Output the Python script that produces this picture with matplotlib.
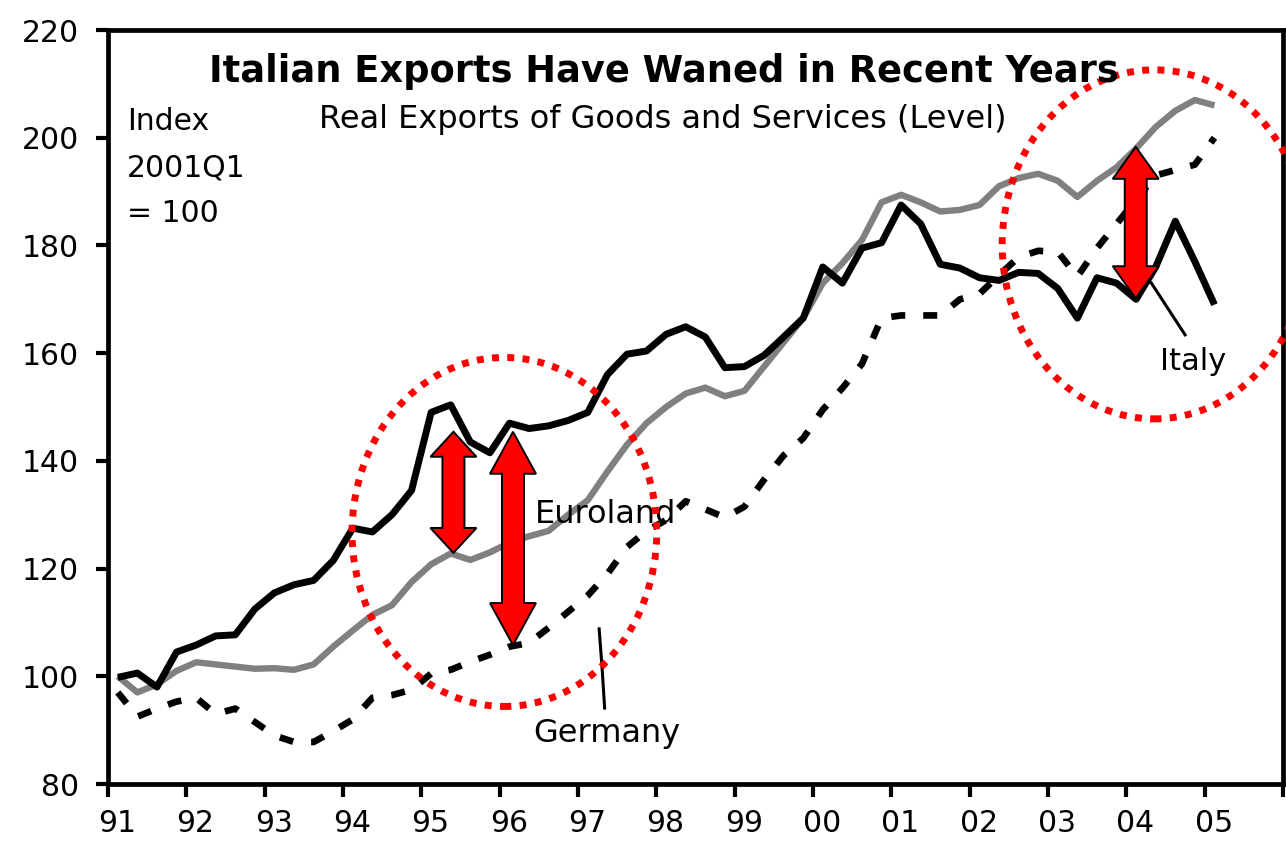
import numpy as np
import matplotlib
matplotlib.use("Agg")
import matplotlib.pyplot as plt
from matplotlib.patches import Ellipse, Polygon
import matplotlib.transforms as mtransforms

# ---------------- data (quarterly, 1991Q1 .. 2005Q1) ----------------
start_year = 1991
italy = [99.8, 100.6, 98.0, 104.5, 105.8, 107.5, 107.7, 112.5,
         115.5, 117.0, 117.8, 121.5, 127.5, 126.8, 130.0, 134.5,
         149.0, 150.4, 143.5, 141.5, 147.0, 146.0, 146.5, 147.5,
         149.0, 156.0, 159.8, 160.4, 163.5, 164.9, 163.0, 157.3,
         157.5, 159.6, 163.0, 166.5, 176.0, 173.0, 179.5, 180.5,
         187.5, 184.0, 176.5, 175.8, 174.0, 173.5, 175.0, 174.8,
         172.0, 166.5, 174.0, 173.0, 170.0, 176.0, 184.5, 177.0,
         169.0]
euroland = [100.0, 97.0, 98.5, 101.0, 102.6, 102.2, 101.8, 101.4,
            101.5, 101.2, 102.2, 105.5, 108.5, 111.4, 113.2, 117.5,
            120.8, 122.8, 121.6, 123.0, 124.8, 126.0, 127.0, 130.0,
            132.7, 138.0, 143.0, 147.0, 150.0, 152.5, 153.6, 152.0,
            153.0, 157.5, 162.0, 166.5, 173.0, 176.7, 181.0, 188.0,
            189.4, 188.0, 186.3, 186.6, 187.5, 191.0, 192.5, 193.3,
            192.0, 189.0, 192.0, 194.5, 198.0, 202.0, 205.0, 207.0,
            206.0]
germany = [97.0, 92.5, 94.0, 95.3, 96.0, 93.0, 94.0, 91.5,
           89.0, 87.8, 87.8, 89.8, 92.0, 96.0, 96.5, 97.5,
           100.5, 101.2, 102.7, 104.0, 105.5, 106.2, 109.0, 112.0,
           115.0, 119.0, 124.0, 127.0, 129.0, 132.5, 131.0, 129.5,
           131.5, 136.5, 141.0, 144.2, 149.5, 153.5, 158.0, 166.5,
           167.0, 167.0, 167.0, 170.0, 171.0, 174.5, 177.8, 179.0,
           178.8, 174.2, 179.5, 184.0, 188.5, 193.0, 194.0, 195.0,
           200.0]

year_ticks = list(range(1991, 2007))
year_labels = ['91', '92', '93', '94', '95', '96', '97', '98', '99',
               '00', '01', '02', '03', '04', '05', '']
y_ticks = [80, 100, 120, 140, 160, 180, 200, 220]

title = "Italian Exports Have Waned in Recent Years"
subtitle = "Real Exports of Goods and Services (Level)"

# annotation geometry (data units)
circle_centers = [(1996.06, 126.8), (2004.36, 180.2)]
circle_w, circle_h = 3.89, 64.8
arrow_x = [1995.41, 1996.17, 2004.12]
arrow_top = [145.4, 145.4, 198.3]
arrow_bottom = [122.9, 105.8, 170.2]
arrow_head_len_px = [25, 42, 32]

# ---------------- figure ----------------
W, H = 1286, 842
fig = plt.figure(figsize=(W / 100, H / 100), dpi=100)
L, R, T, B = 108, 1283, 30, 784
ax = fig.add_axes([L / W, 1 - B / H, (R - L) / W, (B - T) / H])

n = len(italy)
xq = start_year + 0.125 + 0.25 * np.arange(n)

ax.plot(xq, euroland, color='#808080', lw=4.6, solid_joinstyle='round',
        solid_capstyle='butt', zorder=3)
ax.plot(xq, germany, color='black', lw=4.8, linestyle=(0, (2.1, 2.7)),
        dash_capstyle='butt', dash_joinstyle='round', zorder=3)
ax.plot(xq, italy, color='black', lw=5.0, solid_joinstyle='round',
        solid_capstyle='butt', zorder=4)

ax.set_xlim(1991, 2006)
ax.set_ylim(80, 220)
ax.set_xticks(year_ticks)
ax.set_xticklabels(year_labels)
ax.set_yticks(y_ticks)
ax.set_yticklabels([str(v) for v in y_ticks])
for s in ax.spines.values():
    s.set_linewidth(3.4)
    s.set_color('black')
ax.tick_params(axis='both', direction='out', length=9, width=3.0,
               labelsize=21.5, colors='black')
ax.tick_params(axis='y', pad=12)
ax.tick_params(axis='x', pad=9)
offset = mtransforms.ScaledTranslation(9 / 100, 0, fig.dpi_scale_trans)
for lab in ax.get_xticklabels():
    lab.set_transform(lab.get_transform() + offset)

# titles and texts (figure pixel positions)
def fx(px):
    return px / W

def fy(py):
    return 1 - py / H

fig.text(fx(664), fy(82), title, ha='center', va='baseline',
         fontsize=26.5, fontweight='bold', family='DejaVu Sans')
fig.text(fx(663), fy(128), subtitle, ha='center', va='baseline',
         fontsize=23)
for txt, by in [("Index", 130), ("2001Q1", 177), ("= 100", 222)]:
    fig.text(fx(127), fy(by), txt, ha='left', va='baseline', fontsize=21.5)

ax.text(1991 + (535 - L) / 78.33, 80 + (B - 523) / 5.386, "Euroland",
        fontsize=23, ha='left', va='baseline', zorder=5)
ax.text(1991 + (533 - L) / 78.33, 80 + (B - 742) / 5.386, "Germany",
        fontsize=23, ha='left', va='baseline', zorder=5)
ax.text(1991 + (1160 - L) / 78.33, 80 + (B - 370) / 5.386, "Italy",
        fontsize=22, ha='left', va='baseline', zorder=5)

# leader lines
ax.plot([1997.27, 1997.31, 1997.34], [108.8, 101.0, 94.1], color='black',
        lw=2.2, zorder=5)
ax.plot([2004.32, 2004.75], [173.0, 163.4], color='black', lw=2.2, zorder=5)

# dotted red ellipses
for (cx, cy) in circle_centers:
    e = Ellipse((cx, cy), circle_w, circle_h, fill=False, edgecolor='#ff0000',
                linewidth=5.0, linestyle=(0, (1.0, 1.2)), capstyle='butt',
                zorder=6, clip_on=False)
    ax.add_patch(e)

# red double arrows
fig.canvas.draw()
td = ax.transData
inv = td.inverted()
head_w, shaft_w = 46, 22
for xa, yt, yb, hl in zip(arrow_x, arrow_top, arrow_bottom, arrow_head_len_px):
    (cxp, typ) = td.transform((xa, yt))
    (_, byp) = td.transform((xa, yb))
    pts = [(cxp, typ), (cxp + head_w / 2, typ - hl), (cxp + shaft_w / 2, typ - hl),
           (cxp + shaft_w / 2, byp + hl), (cxp + head_w / 2, byp + hl), (cxp, byp),
           (cxp - head_w / 2, byp + hl), (cxp - shaft_w / 2, byp + hl),
           (cxp - shaft_w / 2, typ - hl), (cxp - head_w / 2, typ - hl)]
    pts_d = inv.transform(pts)
    ax.add_patch(Polygon(pts_d, closed=True, facecolor='#ff0000',
                         edgecolor='black', linewidth=1.4, zorder=7,
                         clip_on=False))

fig.savefig("out.png", dpi=100, facecolor='white')
